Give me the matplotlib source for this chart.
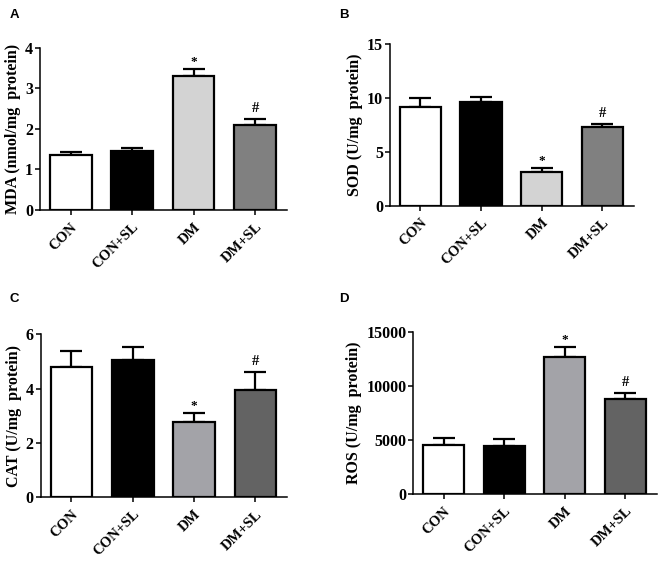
import matplotlib
matplotlib.use("Agg")
import matplotlib.pyplot as plt
import numpy as np

groups = ["CON", "CON+SL", "DM", "DM+SL"]

mda_mean = [1.35, 1.45, 3.31, 2.09]
mda_err = [0.07, 0.08, 0.16, 0.16]

sod_mean = [9.15, 9.65, 3.1, 7.3]
sod_err = [0.80, 0.46, 0.37, 0.28]

cat_mean = [4.78, 5.07, 2.76, 3.96]
cat_err = [0.61, 0.47, 0.33, 0.64]

ros_mean = [4550, 4480, 12740, 8790]
ros_err = [620, 590, 870, 550]

marks = ["", "", "*", "#"]

panels = [
    dict(letter="A", mean=mda_mean, err=mda_err, ylabel="MDA (nmol/mg  protein)",
         ylim=(0, 4), yticks=[0, 1, 2, 3, 4],
         colors=["white", "black", "#d3d3d3", "#808080"],
         pos=[0.0605, 0.627, 0.3737, 0.2883], lpos=(0.015, 0.984)),
    dict(letter="B", mean=sod_mean, err=sod_err, ylabel="SOD (U/mg  protein)",
         ylim=(0, 15), yticks=[0, 5, 10, 15],
         colors=["white", "black", "#d3d3d3", "#808080"],
         pos=[0.590, 0.6346, 0.369, 0.2872], lpos=(0.513, 0.984)),
    dict(letter="C", mean=cat_mean, err=cat_err, ylabel="CAT (U/mg  protein)",
         ylim=(0, 6), yticks=[0, 2, 4, 6],
         colors=["white", "black", "#a3a3a8", "#636363"],
         pos=[0.0616, 0.1167, 0.373, 0.2895], lpos=(0.015, 0.48)),
    dict(letter="D", mean=ros_mean, err=ros_err, ylabel="ROS (U/mg  protein)",
         ylim=(0, 15000), yticks=[0, 5000, 10000, 15000],
         colors=["white", "black", "#a3a3a8", "#636363"],
         pos=[0.6253, 0.1226, 0.368, 0.2872], lpos=(0.513, 0.48)),
]

fig = plt.figure(figsize=(6.61, 5.63), dpi=100)
serif = "Liberation Serif"

for p in panels:
    ax = fig.add_axes(p["pos"])
    x = np.arange(len(groups))
    ax.bar(x, p["mean"], width=0.68, color=p["colors"], edgecolor="black",
           linewidth=1.6, zorder=2)
    lower = np.zeros(len(groups))
    ax.errorbar(x, p["mean"], yerr=[lower, p["err"]], fmt="none", ecolor="black",
                elinewidth=1.6, capsize=8, capthick=1.6, zorder=1)
    for xi, m, e, s in zip(x, p["mean"], p["err"], marks):
        if s:
            ax.annotate(s, (xi, m + e), xytext=(0, 3 if s == "#" else 1),
                        textcoords="offset points", ha="center", va="bottom",
                        fontsize=10.5 if s == "#" else 9.5, fontfamily=serif,
                        fontweight="bold")
    ax.set_xlim(-0.5, 3.52)
    ax.set_ylim(*p["ylim"])
    ax.set_yticks(p["yticks"])
    ax.set_yticklabels([str(t) for t in p["yticks"]], fontfamily=serif,
                       fontweight="bold", fontsize=11.5)
    ax.set_xticks(x)
    ax.set_xticklabels(groups, rotation=45, ha="right", va="top",
                       rotation_mode="anchor", fontfamily=serif,
                       fontweight="bold", fontsize=10.5)
    ax.set_ylabel(p["ylabel"], fontfamily=serif, fontweight="bold", fontsize=11.5,
                  labelpad=3)
    for side in ["top", "right"]:
        ax.spines[side].set_visible(False)
    for side in ["left", "bottom"]:
        ax.spines[side].set_linewidth(1.1)
    ax.tick_params(axis="both", direction="out", length=3.5, width=1.1, pad=1.5)
    ax.tick_params(axis="x", pad=4)
    fig.text(p["lpos"][0], p["lpos"][1], p["letter"], fontfamily="Liberation Sans",
             fontweight="bold", fontsize=9.5, ha="left", va="top")

fig.savefig("out.png", dpi=100)
